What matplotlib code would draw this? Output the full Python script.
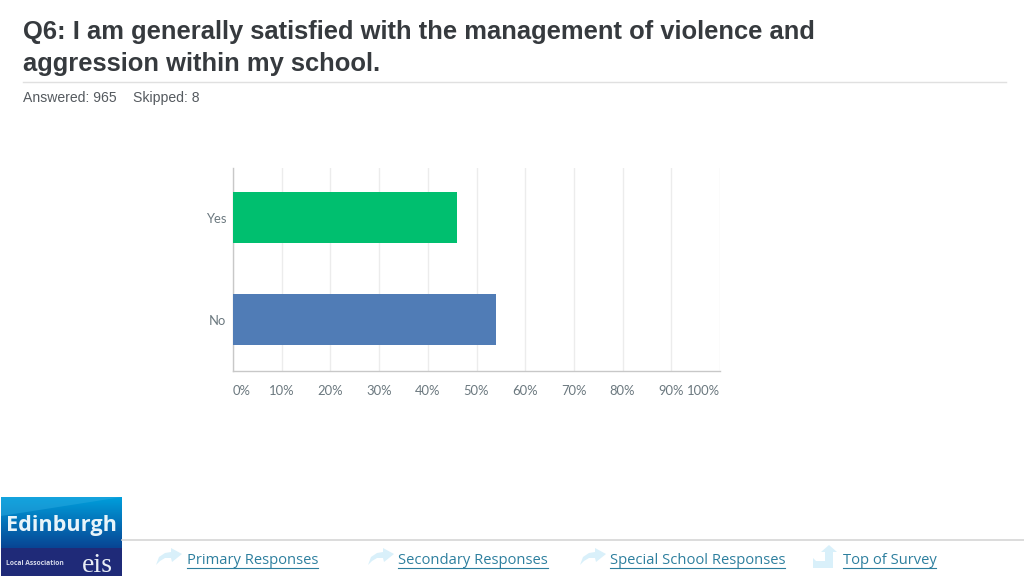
import numpy as np
import matplotlib
matplotlib.use('Agg')
import matplotlib.pyplot as plt
from matplotlib.patches import Polygon, Rectangle
from matplotlib.transforms import ScaledTranslation

TITLE_LINES = ['Q6: I am generally satisfied with the management of violence and',
               'aggression within my school.']
SUBTITLE = ['Answered: 965', 'Skipped: 8']
CATEGORIES = ['No', 'Yes']
VALUES = [54, 46]
BAR_COLORS = ['#507cb6', '#00bf6f']
TICKS = [0, 10, 20, 30, 40, 50, 60, 70, 80, 90, 100]
LINKS = ['Primary Responses', 'Secondary Responses', 'Special School Responses', 'Top of Survey']

W, H = 1024, 576
fig = plt.figure(figsize=(W / 100, H / 100), dpi=100, facecolor='white')

# page layer in pixel coordinates, y going down
page = fig.add_axes([0, 0, 1, 1])
page.set_xlim(0, W)
page.set_ylim(H, 0)
page.axis('off')

page.text(23, 38.5, TITLE_LINES[0], fontsize=18.4, fontweight='bold', family='Liberation Sans',
          color='#363a3e', va='baseline')
page.text(23, 70.5, TITLE_LINES[1], fontsize=18.4, fontweight='bold', family='Liberation Sans',
          color='#363a3e', va='baseline')
page.plot([23, 1006], [81.5, 81.5], color='#e0e0e0', lw=1)
page.text(23, 101.5, SUBTITLE[0], fontsize=10.1, family='Liberation Sans', color='#555a5f', va='baseline')
page.text(133, 102, SUBTITLE[1], fontsize=10.1, family='Liberation Sans', color='#555a5f', va='baseline')

# footer rule and logo
page.plot([122, 1024], [539.5, 539.5], color='#d5d5d5', lw=1.2)
grad = np.linspace(0, 1, 60)[:, None]
top = np.array([0.0, 0.62, 0.86])
bottom = np.array([0.03, 0.27, 0.58])
logo = top + (bottom - top) * grad[..., None]
page.imshow(logo, extent=[1, 122, 548, 497], aspect='auto', zorder=1)
page.add_patch(Rectangle((1, 548), 121, 28, color='#1f2a78', lw=0, zorder=2))
page.add_patch(Polygon([[1, 516], [122, 497], [1, 497]], color='#29a9e0', alpha=0.5, lw=0, zorder=2))
page.set_xlim(0, W)
page.set_ylim(H, 0)
page.text(6, 526, 'Edinburgh', fontsize=15.6, fontweight='bold', family='Open Sans', color='#e8f4fa',
          va='center', zorder=3)
page.text(6, 563.5, 'Local Association', fontsize=4.9, fontweight='bold', family='Open Sans', color='#d5d8ea',
          va='center', zorder=3)
page.text(82, 572, 'eis', fontsize=20, family='Liberation Serif', color='#e8edf5', va='baseline', zorder=3)


def curved_arrow(x, y):
    pts = [[x, y + 17], [x + 3, y + 9], [x + 9, y + 5], [x + 15, y + 4], [x + 15, y], [x + 26, y + 6],
           [x + 16, y + 14], [x + 15, y + 10], [x + 9, y + 10], [x + 4, y + 13]]
    page.add_patch(Polygon(pts, color='#d9f0fa', lw=0))


def up_arrow(x, y):
    pts = [[x, y + 13], [x + 3, y + 16], [x + 12, y + 16], [x + 12, y + 7], [x + 8, y + 7], [x + 16, y],
           [x + 24, y + 7], [x + 20, y + 7], [x + 20, y + 23], [x, y + 23]]
    page.add_patch(Polygon(pts, color='#d9f0fa', lw=0))


link_x = [187, 397.5, 610, 843]
link_w = [131, 150, 175, 93]
icon_x = [156, 368, 580]
for i, name in enumerate(LINKS):
    page.text(link_x[i], 560, name, fontsize=10.6, family='Open Sans', color='#2d7f9e', va='center')
    page.plot([link_x[i], link_x[i] + link_w[i]], [567.5, 567.5], color='#2d7f9e', lw=0.8)
for x in icon_x:
    curved_arrow(x, 548)
up_arrow(813, 545)

# chart
ax = fig.add_axes([233 / W, 1 - 371 / H, (720 - 233) / W, (371 - 168) / H])
y = np.arange(len(CATEGORIES))
ax.barh(y, VALUES, height=0.5, color=BAR_COLORS, zorder=3)
ax.set_xlim(0, 100)
ax.set_ylim(-0.505, 1.485)
ax.set_yticks(y)
ax.set_yticklabels(CATEGORIES, fontsize=9.4, family='Lato', color='#6b787f', va='center')
ax.set_xticks(TICKS)
ax.set_xticklabels([f'{t}%' for t in TICKS], fontsize=9.4, family='Lato', color='#6b787f')
labels = ax.get_xticklabels()
labels[0].set_ha('left')
labels[-1].set_ha('right')
ax.tick_params(axis='both', length=0)
ax.tick_params(axis='x', pad=10)
ax.tick_params(axis='y', pad=5)
# labels sit a touch lower than the bar centres
down = ScaledTranslation(0, -2 / 100, fig.dpi_scale_trans)
for label in ax.get_yticklabels():
    label.set_transform(label.get_transform() + down)
ax.grid(axis='x', color='#ececec', lw=1, zorder=0)
ax.set_axisbelow(True)
for side in ['top', 'right']:
    ax.spines[side].set_visible(False)
for side in ['left', 'bottom']:
    ax.spines[side].set_color('#c8c8c8')
    ax.spines[side].set_linewidth(1)

fig.savefig('out.png', dpi=100)
